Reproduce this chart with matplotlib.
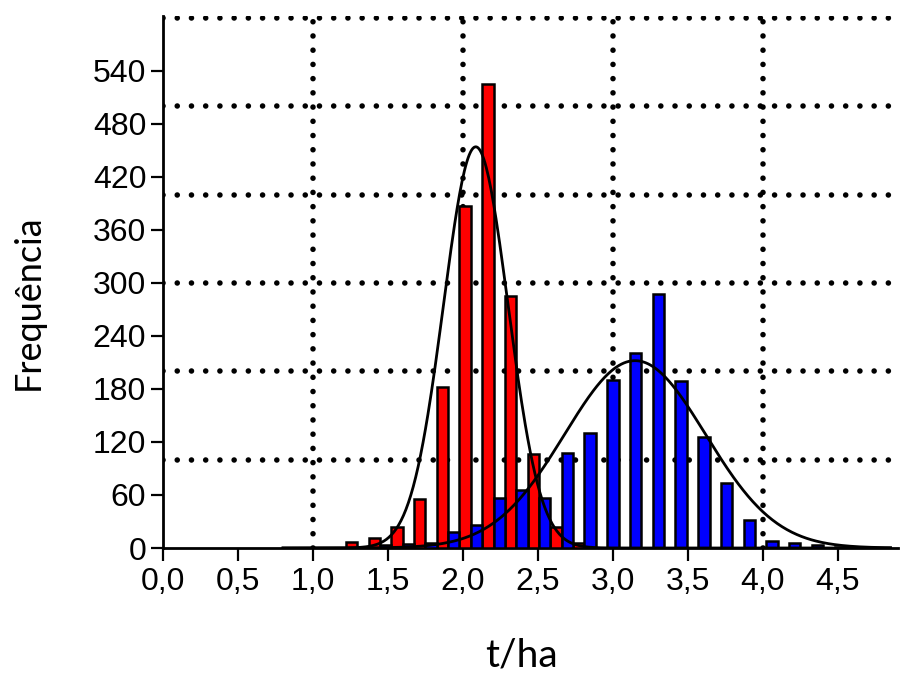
import numpy as np
import matplotlib.pyplot as plt

# centre of each class (boundary between the red and the blue bar)
class_mid = [1.294, 1.446, 1.597, 1.749, 1.900, 2.052, 2.204, 2.355, 2.507, 2.658, 2.810,
             2.962, 3.113, 3.265, 3.416, 3.568, 3.720, 3.871, 4.023, 4.174, 4.326, 4.478]
red_freq = [7, 11, 24, 55, 182, 387, 525, 285, 106, 24, 6,
            0, 0, 0, 0, 0, 0, 0, 0, 0, 0, 0]
blue_freq = [1, 3, 5, 6, 18, 26, 57, 66, 57, 107, 130,
             190, 221, 287, 189, 126, 74, 32, 8, 6, 3, 1]

# normal curves fitted to each group: mean, sd, peak height
red_fit = (2.085, 0.215, 454)
blue_fit = (3.147, 0.47, 212)

xticks = [0.0, 0.5, 1.0, 1.5, 2.0, 2.5, 3.0, 3.5, 4.0, 4.5]
xtick_labels = ['0,0', '0,5', '1,0', '1,5', '2,0', '2,5', '3,0', '3,5', '4,0', '4,5']
yticks = [0, 60, 120, 180, 240, 300, 360, 420, 480, 540]
hgrid = [100, 200, 300, 400, 500, 600]
vgrid = [1, 2, 3, 4]

plt.rcParams['font.family'] = ['Liberation Sans', 'DejaVu Sans']

fig = plt.figure(figsize=(9.04, 6.75), dpi=100)
ax = fig.add_axes([163 / 904, 127 / 675, 735 / 904, 532 / 675])

w = 0.0758
mid = np.array(class_mid)
ax.bar(mid - w / 2, red_freq, width=w, color='#ff0000', edgecolor='black', linewidth=1.8, zorder=3)
ax.bar(mid + w / 2, blue_freq, width=w, color='#0000ff', edgecolor='black', linewidth=1.8, zorder=3)

xs = np.linspace(0.8, 4.85, 500)
for mu, sd, peak in [red_fit, blue_fit]:
    ax.plot(xs, peak * np.exp(-(xs - mu) ** 2 / (2 * sd ** 2)), color='black', lw=2.0, zorder=4)

dots = dict(color='black', lw=4.0, ls=(0, (0.01, 2.55)), dash_capstyle='round', zorder=1)
for v in hgrid:
    ax.axhline(v, **dots)
for v in vgrid:
    ax.axvline(v, **dots)

ax.set_xlim(0, 4.9)
ax.set_ylim(0, 602)
ax.set_xticks(xticks)
ax.set_xticklabels(xtick_labels)
ax.set_yticks(yticks)
ax.spines['top'].set_visible(False)
ax.spines['right'].set_visible(False)
ax.spines['left'].set_linewidth(2.0)
ax.spines['bottom'].set_linewidth(2.0)
ax.tick_params(axis='both', direction='out', length=9, width=1.6, color='black')
ax.tick_params(axis='x', labelsize=23, pad=5)
ax.tick_params(axis='y', labelsize=23, pad=3)

ax.set_xlabel('t/ha', fontsize=28, family=['Lato', 'DejaVu Sans'], va='center')
ax.xaxis.set_label_coords(0.488, -0.203)
ax.set_ylabel('Frequência', fontsize=26, family=['Lato', 'DejaVu Sans'], va='center')
ax.yaxis.set_label_coords(-0.183, 0.462)

fig.savefig('out.png', dpi=100)
